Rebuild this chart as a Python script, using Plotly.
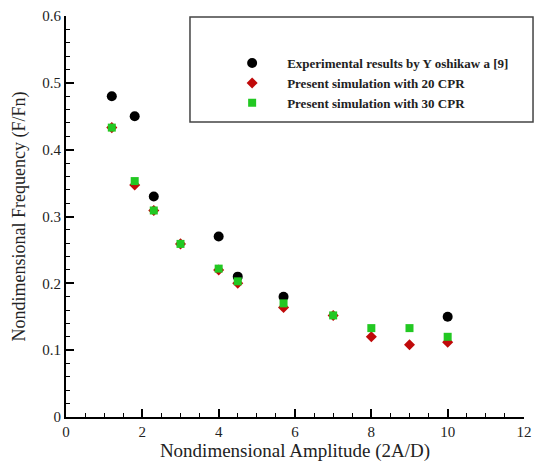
import plotly.graph_objects as go

# Nondimensional amplitude (2A/D) and frequency (F/Fn)
exp_amp = [1.2, 1.8, 2.3, 4.0, 4.5, 5.7, 10.0]
exp_freq = [0.48, 0.45, 0.33, 0.27, 0.21, 0.18, 0.15]

sim_amp = [1.2, 1.8, 2.3, 3.0, 4.0, 4.5, 5.7, 7.0, 8.0, 9.0, 10.0]
cpr20_freq = [0.433, 0.347, 0.309, 0.259, 0.220, 0.200, 0.164, 0.152, 0.120, 0.108, 0.112]
cpr30_freq = [0.433, 0.353, 0.309, 0.259, 0.222, 0.203, 0.170, 0.152, 0.133, 0.133, 0.120]

names = [
    "Experimental results by Y oshikaw a [9]",
    "Present simulation with 20 CPR",
    "Present simulation with 30 CPR",
]

serif = "Liberation Serif"

fig = go.Figure()
fig.add_trace(go.Scatter(x=exp_amp, y=exp_freq, mode="markers", name=names[0],
                         marker=dict(symbol="circle", size=10, color="#000000")))
fig.add_trace(go.Scatter(x=sim_amp, y=cpr20_freq, mode="markers", name=names[1],
                         marker=dict(symbol="diamond", size=8.5, color="#c00a0a")))
fig.add_trace(go.Scatter(x=sim_amp, y=cpr30_freq, mode="markers", name=names[2],
                         marker=dict(symbol="square", size=8, color="#22c822")))

axis_common = dict(
    showline=True, linecolor="black", linewidth=2, mirror=False,
    ticks="inside", ticklen=8, tickwidth=2, tickcolor="black",
    showgrid=False, zeroline=False, automargin=False,
    tickfont=dict(family=serif, size=15, color="#222"),
)

fig.update_xaxes(range=[0, 12], dtick=2, tick0=0,
                 minor=dict(dtick=0.5, ticks="inside", ticklen=4, tickwidth=1, tickcolor="black"),
                 title=dict(text="Nondimensional Amplitude (2A/D)", font=dict(family=serif, size=19, color="#222"),
                            standoff=3),
                 **axis_common)
fig.update_yaxes(range=[0, 0.6], dtick=0.1, tick0=0, tickformat="~g",
                 minor=dict(dtick=0.02, ticks="inside", ticklen=4, tickwidth=1, tickcolor="black"),
                 title=dict(text="Nondimensional Frequency (F/Fn)", font=dict(family=serif, size=18, color="#222"),
                            standoff=12),
                 **axis_common)

# Framed legend box
fig.add_shape(type="rect", xref="paper", yref="paper",
              x0=0.2707, x1=1.0197, y0=0.7357, y1=0.9975,
              line=dict(color="#444", width=1.5), fillcolor="rgba(0,0,0,0)")

fig.update_layout(
    width=539, height=462,
    margin=dict(l=66, r=15, t=16, b=45),
    plot_bgcolor="white", paper_bgcolor="white",
    showlegend=True,
    legend=dict(x=0.33, y=0.92, xanchor="left", yanchor="top",
                bgcolor="rgba(0,0,0,0)", borderwidth=0, itemwidth=60,
                tracegroupgap=0,
                font=dict(family=serif, size=13, color="#222", weight="bold")),
)

fig.write_html("out.html")
